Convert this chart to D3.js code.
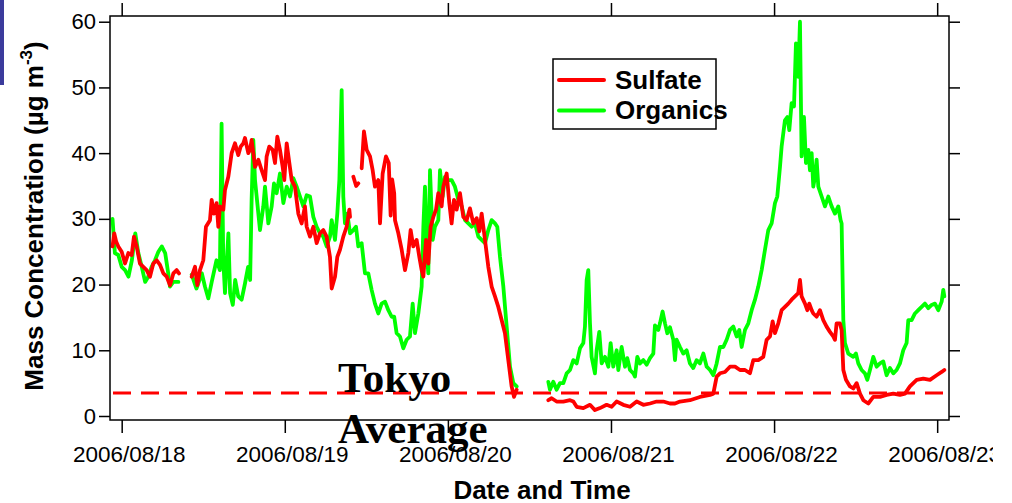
<!DOCTYPE html>
<html><head><meta charset="utf-8">
<script src="https://cdn.jsdelivr.net/npm/d3@7"></script>
<style>
html,body{margin:0;padding:0;background:#fff;}
svg{display:block;}
</style></head>
<body>
<svg id="chart" width="1012" height="503"></svg>
<script>
// ---- data: [hours since 2006/08/18 00:00, value in µg m-3]; null = gap ----
const organics = [
[-1.35,30.0],[-1.0,24.8],[-0.5,24.5],[0.0,22.7],[0.5,22.2],[1.0,21.2],[1.5,23.7],[2.0,27.8],[2.45,24.8],[2.95,22.7],[3.45,20.4],[3.9,21.2],[4.4,22.7],[4.9,23.7],[5.4,25.0],[5.9,25.8],[6.4,24.8],[6.85,21.7],[7.1,19.7],[7.6,20.4],[8.35,20.4],[9.3,null],
[10.3,21.5],[11.0,19.4],[11.8,21.7],[12.25,19.7],[12.75,17.9],[13.25,20.4],[13.95,23.7],[14.45,22.2],[14.7,44.5],[14.95,23.7],[15.2,18.7],[15.7,27.8],[15.95,18.7],[16.35,16.9],[16.7,20.7],[17.15,18.2],[17.65,17.7],[18.15,20.2],[18.6,22.7],[18.9,20.7],[19.12,32.9],[19.37,42.0],[19.62,35.9],[19.86,33.4],[20.35,28.3],[20.84,31.9],[21.09,34.9],[21.58,29.3],[22.07,31.9],[22.41,35.4],[22.8,33.9],[23.29,36.9],[23.79,32.4],[24.28,34.9],[24.77,33.4],[25.26,36.2],[25.75,34.9],[26.24,33.4],[26.73,31.9],[27.22,33.6],[27.71,33.4],[28.2,30.3],[28.69,28.8],[29.18,27.8],[29.67,27.3],[30.16,25.8],[30.65,27.3],[30.9,29.8],[31.39,26.8],[31.73,30.8],[32.03,35.9],[32.37,49.6],[32.61,33.4],[32.86,29.3],[33.2,30.8],[33.6,27.8],[34.09,28.3],[34.48,28.8],[34.82,25.8],[35.31,26.3],[35.8,21.7],[36.29,21.7],[36.78,19.2],[37.27,17.1],[37.76,15.6],[38.25,17.1],[38.75,17.4],[39.24,16.1],[39.73,15.1],[40.1,15.1],[40.46,12.6],[40.95,12.1],[41.44,10.3],[41.93,11.6],[42.42,12.1],[42.82,17.1],[43.16,12.6],[43.65,15.6],[44.14,19.7],[44.39,28.8],[44.63,34.9],[44.97,23.7],[45.12,21.7],[45.37,37.4],[45.76,26.8],[46.1,28.8],[46.59,29.8],[46.84,37.4],[47.23,33.4],[47.57,36.4],[48.06,35.9],[48.55,35.9],[49.04,34.9],[49.54,32.9],[50.03,31.9],[50.52,29.8],[51.01,29.3],[51.5,28.8],[51.99,29.3],[52.48,27.3],[52.97,26.8],[53.46,26.3],[53.95,28.3],[54.44,29.8],[54.93,29.3],[55.27,28.8],[55.67,24.2],[56.16,19.7],[56.65,13.6],[57.14,7.5],[57.63,5.0],[58.12,4.5],[60.0,null],
[62.78,5.2],[63.02,4.0],[63.51,5.2],[64.0,4.0],[64.49,5.0],[64.99,5.0],[65.48,6.5],[65.97,7.0],[66.46,8.5],[66.95,8.0],[67.44,10.3],[67.93,11.1],[68.17,13.6],[68.42,20.7],[68.66,22.2],[68.91,14.1],[69.15,9.0],[69.64,6.5],[69.89,10.0],[70.28,12.8],[70.63,8.0],[71.12,9.0],[71.61,7.5],[71.95,11.1],[72.34,7.5],[72.83,10.0],[73.08,7.0],[73.57,10.5],[74.06,7.5],[74.4,8.8],[74.8,7.0],[75.29,6.5],[75.53,6.0],[75.87,9.0],[76.27,8.0],[76.76,8.5],[77.25,7.8],[77.74,8.8],[78.23,9.5],[78.47,13.8],[78.96,13.1],[79.21,14.1],[79.6,15.9],[79.95,14.1],[80.29,12.6],[80.68,13.5],[81.17,11.6],[81.42,8.5],[81.66,11.6],[82.15,10.5],[82.64,9.5],[83.13,10.0],[83.62,8.0],[84.11,7.3],[84.6,8.5],[85.09,8.0],[85.59,9.5],[86.08,7.5],[86.57,7.0],[87.06,6.2],[87.55,8.0],[88.04,10.5],[88.53,10.5],[89.02,11.6],[89.51,13.1],[90.0,13.6],[90.49,12.1],[90.88,13.1],[91.23,10.5],[91.72,13.1],[92.21,14.1],[92.7,16.1],[93.19,17.7],[93.68,19.7],[94.17,22.2],[94.66,25.3],[95.15,28.3],[95.64,29.3],[96.13,32.4],[96.47,33.4],[96.87,37.9],[97.11,41.0],[97.6,45.0],[97.95,45.5],[98.24,43.5],[98.58,47.6],[98.93,47.1],[99.22,56.7],[99.56,51.6],[99.81,60.0],[100.05,39.5],[100.4,45.5],[100.69,38.5],[101.04,40.5],[101.28,37.4],[101.53,40.0],[101.77,34.9],[102.02,36.4],[102.26,39.0],[102.51,34.9],[103.0,33.4],[103.49,31.9],[103.98,33.4],[104.47,31.9],[104.96,30.8],[105.45,31.9],[105.79,29.8],[105.94,29.3],[106.19,14.6],[106.43,11.1],[106.92,9.5],[107.66,9.0],[108.05,9.5],[108.39,8.0],[108.88,7.0],[109.37,6.5],[109.72,5.5],[110.11,7.0],[110.6,9.0],[111.09,7.5],[111.58,8.0],[112.07,8.3],[112.56,6.2],[113.05,7.3],[113.54,6.5],[114.03,7.0],[114.52,8.0],[115.01,10.0],[115.5,11.1],[115.75,14.6],[116.24,14.6],[116.73,15.6],[117.22,16.1],[117.71,16.6],[118.2,17.1],[118.69,16.4],[119.18,16.9],[119.67,17.1],[120.16,16.1],[120.66,17.4],[120.9,19.2],[121.05,18.2]
];
const sulfate = [
[-1.35,25.8],[-1.1,27.8],[-0.8,26.5],[-0.5,25.8],[0.0,25.0],[0.49,23.2],[0.98,24.8],[1.47,24.5],[1.81,27.3],[2.2,25.8],[2.69,23.2],[3.18,22.7],[3.67,22.2],[4.16,21.2],[4.65,23.2],[5.15,23.7],[5.64,23.0],[6.13,21.7],[6.62,21.2],[7.11,19.9],[7.6,21.7],[8.09,22.2],[8.43,21.7],[9.3,null],
[10.3,21.2],[10.79,22.7],[11.13,19.9],[11.52,22.2],[12.01,23.7],[12.4,28.8],[12.99,29.8],[13.24,32.9],[13.58,30.8],[13.97,32.4],[14.22,28.8],[14.46,31.9],[14.96,31.4],[15.2,34.4],[15.69,36.4],[16.18,40.0],[16.67,41.5],[17.16,39.7],[17.51,41.0],[17.9,41.5],[18.14,42.3],[18.63,40.0],[18.88,40.5],[19.12,42.0],[19.37,40.0],[19.62,37.9],[20.11,39.0],[20.6,37.4],[21.09,35.9],[21.33,39.5],[21.72,41.0],[22.22,40.5],[22.56,38.5],[22.9,42.5],[23.29,40.5],[23.69,37.9],[23.93,35.9],[24.28,41.5],[24.67,38.5],[25.01,35.9],[25.5,34.9],[25.99,30.8],[26.48,29.3],[26.97,31.9],[27.22,28.8],[27.71,27.3],[28.2,28.8],[28.69,26.3],[29.18,27.8],[29.67,28.3],[30.16,27.3],[30.65,24.2],[30.9,19.4],[31.39,21.2],[31.73,24.2],[32.12,25.3],[32.61,27.3],[33.1,28.8],[33.5,31.4],[33.6,30.3],[33.85,null],
[34.09,36.4],[34.5,35.0],[34.82,35.4],[35.05,null],
[35.31,37.7],[35.65,43.3],[36.05,40.5],[36.54,39.5],[36.93,37.4],[37.27,34.9],[37.76,35.9],[38.01,29.3],[38.4,36.9],[38.89,39.5],[39.3,38.5],[39.58,30.5],[39.8,36.0],[40.1,33.9],[40.22,29.8],[40.71,27.8],[41.2,25.3],[41.69,22.2],[42.18,24.8],[42.52,28.3],[42.91,25.8],[43.4,26.8],[43.8,24.2],[44.14,22.2],[44.39,21.2],[44.78,26.8],[45.12,23.2],[45.46,28.8],[45.86,30.3],[46.25,31.4],[46.59,33.9],[47.08,31.9],[47.33,34.9],[47.82,36.9],[48.21,32.4],[48.55,29.3],[48.9,32.9],[49.29,31.4],[49.78,33.9],[50.27,30.3],[50.76,29.8],[51.25,31.6],[51.74,29.3],[52.23,30.1],[52.63,28.1],[52.97,30.8],[53.46,26.8],[53.95,22.7],[54.44,19.7],[54.93,18.2],[55.42,16.6],[55.91,14.6],[56.4,12.6],[56.89,8.5],[57.38,4.5],[57.73,2.9],[58.12,4.0],[60.0,null],
[62.78,2.4],[63.27,2.7],[64.0,2.2],[64.99,2.2],[65.97,2.4],[66.46,2.2],[66.95,1.4],[67.93,1.2],[68.91,1.7],[69.64,0.9],[70.38,1.2],[71.36,1.7],[72.1,1.4],[72.83,2.2],[73.81,1.7],[74.8,1.4],[75.78,2.2],[76.76,1.7],[77.74,1.9],[78.72,2.2],[79.7,2.2],[80.68,1.9],[81.42,1.9],[82.15,2.2],[83.62,2.4],[85.09,2.9],[86.57,3.2],[87.06,3.4],[87.55,6.0],[88.04,6.5],[88.77,6.7],[89.51,7.5],[90.25,7.5],[90.98,7.0],[91.72,7.0],[92.45,6.5],[92.94,8.5],[93.68,8.5],[94.41,9.0],[94.9,11.6],[95.4,12.1],[95.79,14.4],[96.13,12.6],[96.62,14.1],[97.11,16.1],[97.6,16.6],[98.09,17.1],[98.58,17.7],[99.07,18.2],[99.56,18.7],[99.81,20.7],[100.05,18.2],[100.55,17.1],[100.89,16.1],[101.18,17.1],[101.53,16.1],[101.77,15.6],[102.26,15.1],[102.75,16.1],[103.24,14.6],[103.73,13.6],[104.22,12.8],[104.71,12.1],[104.96,11.6],[105.2,14.1],[105.69,14.1],[105.94,13.1],[106.19,7.0],[106.58,5.5],[107.17,4.5],[107.66,4.2],[108.15,5.0],[108.64,3.4],[109.13,2.4],[109.86,1.9],[110.6,2.9],[111.58,2.9],[112.56,3.2],[113.54,3.4],[114.52,3.2],[115.26,3.4],[115.99,4.5],[116.98,5.5],[117.96,5.7],[118.94,5.5],[119.92,6.2],[120.66,6.7],[121.05,7.0]
];
const tokyoAverage = 3.5;
const dateTicks = ["2006/08/18","2006/08/19","2006/08/20","2006/08/21","2006/08/22","2006/08/23"];
const yTicks = [0,10,20,30,40,50,60];
const seriesNames = ["Sulfate","Organics"];
const seriesColors = ["#ff0000","#00ff00"];

(function draw() {
const svg = d3.select("#chart");
const L = 110, R = 949, T = 16, B = 420;
const base = Date.UTC(2006, 7, 18);
const H = 3600 * 1000;
const parseTick = d3.utcParse("%Y/%m/%d");
const x = d3.scaleUtc().domain([new Date(base - 1.72 * H), new Date(base + 121.74 * H)]).range([L, R]);
const y = d3.scaleLinear().domain([-0.61, 60.87]).range([B, T]);
const font = "'Liberation Sans', Arial, Helvetica, sans-serif";

// left blue bar
svg.append("rect").attr("x", 0).attr("y", 0).attr("width", 4).attr("height", 85).attr("fill", "#3b3b9c");

const defs = svg.append("defs");
defs.append("clipPath").attr("id", "plotclip")
  .append("rect").attr("x", L).attr("y", T).attr("width", R - L).attr("height", B - T);
defs.append("clipPath").attr("id", "pageclip")
  .append("rect").attr("x", 0).attr("y", 0).attr("width", 993).attr("height", 503);

// Tokyo average dashed line
svg.append("line")
  .attr("x1", L + 3).attr("x2", R - 5)
  .attr("y1", y(tokyoAverage)).attr("y2", y(tokyoAverage))
  .attr("stroke", "#ff0000").attr("stroke-width", 3).attr("stroke-dasharray", "18,10");

// data lines
const line = d3.line()
  .defined(d => d[1] !== null)
  .x(d => x(new Date(base + d[0] * H)))
  .y(d => y(d[1]))
  .curve(d3.curveLinear);

const g = svg.append("g").attr("clip-path", "url(#plotclip)");
g.append("path").datum(organics).attr("d", line)
  .attr("fill", "none").attr("stroke", seriesColors[1]).attr("stroke-width", 3.8)
  .attr("stroke-linejoin", "round").attr("stroke-linecap", "round");
g.append("path").datum(sulfate).attr("d", line)
  .attr("fill", "none").attr("stroke", seriesColors[0]).attr("stroke-width", 3.8)
  .attr("stroke-linejoin", "round").attr("stroke-linecap", "round");

// frame
svg.append("rect").attr("x", L).attr("y", T).attr("width", R - L).attr("height", B - T)
  .attr("fill", "none").attr("stroke", "#000").attr("stroke-width", 1.5);

// axes
const tickDates = dateTicks.map(parseTick);
const ax = svg.append("g").attr("font-family", font);
const axLeft = ax.append("g").attr("transform", `translate(${L},0)`)
  .call(d3.axisLeft(y).tickValues(yTicks).tickSize(11).tickPadding(3));
axLeft.selectAll("text").attr("font-size", 22).attr("fill", "#000").attr("font-family", font);

const axRight = ax.append("g").attr("transform", `translate(${R},0)`)
  .call(d3.axisRight(y).tickValues(yTicks).tickSize(11).tickFormat(""));
const axTop = ax.append("g").attr("transform", `translate(0,${T})`)
  .call(d3.axisTop(x).tickValues(tickDates).tickSize(13).tickFormat(""));
const axBottom = ax.append("g").attr("transform", `translate(0,${B})`).attr("clip-path", "url(#pageclip)")
  .call(d3.axisBottom(x).tickValues(tickDates).tickSize(13).tickFormat(d3.utcFormat("%Y/%m/%d")));
axBottom.selectAll("text").attr("font-size", 22.5).attr("fill", "#000").attr("font-family", font)
  .attr("y", 42).attr("dy", 0).attr("dx", 7);
[axLeft, axRight, axTop, axBottom].forEach(a => {
  a.select(".domain").remove();
  a.selectAll(".tick line").attr("stroke", "#000").attr("stroke-width", 1.5);
});

// axis titles
svg.append("text")
  .attr("transform", "translate(43,216) rotate(-90)")
  .attr("text-anchor", "middle")
  .attr("font-family", font).attr("font-weight", "bold").attr("font-size", 26)
  .call(t => {
    t.append("tspan").text("Mass Concentration (µg m");
    t.append("tspan").attr("font-size", 17).attr("dy", -11).text("-3");
    t.append("tspan").attr("dy", 11).text(")");
  });
svg.append("text")
  .attr("x", 542).attr("y", 499).attr("text-anchor", "middle")
  .attr("font-family", font).attr("font-weight", "bold").attr("font-size", 26)
  .text("Date and Time");

// Tokyo Average annotation
const ann = svg.append("text").attr("font-family", "'Liberation Serif', 'Times New Roman', serif")
  .attr("font-weight", "bold").attr("font-size", 43).attr("fill", "#000");
ann.append("tspan").attr("x", 338).attr("y", 392).text("Tokyo");
ann.append("tspan").attr("x", 338).attr("y", 443).text("Average");

// legend
const lg = svg.append("g");
lg.append("rect").attr("x", 553).attr("y", 59).attr("width", 163).attr("height", 70)
  .attr("fill", "#fff").attr("stroke", "#000").attr("stroke-width", 1.5);
seriesNames.forEach((n, i) => {
  const yy = 80 + i * 30.5;
  lg.append("line").attr("x1", 559).attr("x2", 604).attr("y1", yy).attr("y2", yy)
    .attr("stroke", seriesColors[i]).attr("stroke-width", 4).attr("stroke-linecap", "round");
  lg.append("text").attr("x", 615).attr("y", yy + 8.5)
    .attr("font-family", font).attr("font-weight", "bold").attr("font-size", 26).text(n);
});
})();
</script>
</body></html>
